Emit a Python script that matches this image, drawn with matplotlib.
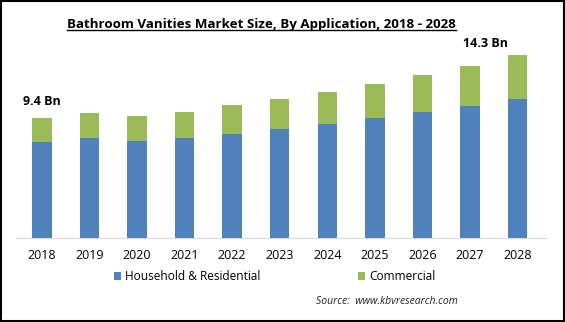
import matplotlib.pyplot as plt
from matplotlib.patches import Rectangle
from matplotlib.lines import Line2D

# Market size data (USD Bn)
years = ['2018', '2019', '2020', '2021', '2022', '2023', '2024', '2025', '2026', '2027', '2028']
household = [7.52, 7.84, 7.58, 7.84, 8.13, 8.52, 8.93, 9.38, 9.87, 10.34, 10.88]
commercial = [1.88, 1.93, 1.97, 2.03, 2.26, 2.34, 2.48, 2.65, 2.89, 3.12, 3.42]
end_labels = ['9.4 Bn', '14.3 Bn']

blue = '#4f81bd'
green = '#9bbb59'

plt.rcParams['font.family'] = ['Open Sans', 'DejaVu Sans']

fig = plt.figure(figsize=(5.65, 3.22), dpi=100)
ax = fig.add_axes([0.028, 0.261, 0.94, 0.615])

x = list(range(len(years)))
ax.bar(x, household, width=0.41, color=blue, label='Household & Residential')
ax.bar(x, commercial, width=0.41, bottom=household, color=green, label='Commercial')

totals = [h + c for h, c in zip(household, commercial)]
ax.text(x[0], totals[0] + 1.25, end_labels[0], ha='center', va='center',
        fontsize=9, fontweight='bold')
ax.text(x[-1] - 0.67, totals[-1] + 0.95, end_labels[1], ha='center', va='center',
        fontsize=9, fontweight='bold')

ax.set_xlim(-0.55, 10.62)
ax.set_ylim(0, 15.5)
ax.set_xticks(x)
ax.set_xticklabels(years, fontsize=9)
ax.tick_params(axis='x', length=0, pad=8)
ax.set_yticks([])
for s in ['top', 'right', 'left']:
    ax.spines[s].set_visible(False)
ax.spines['bottom'].set_color('#d9d9d9')

fig.legend(loc='center', bbox_to_anchor=(0.486, 0.14), ncol=2, frameon=False,
           fontsize=8.6, handlelength=0.6, handleheight=0.6, handletextpad=0.3,
           columnspacing=8.2)

fig.text(0.81, 0.065, 'Source:  www.kbvresearch.com', ha='right', va='center',
         fontsize=7.5, style='italic', color='#222222')

title = fig.text(0.463, 0.925, 'Bathroom Vanities Market Size, By Application, 2018 - 2028',
                 ha='center', va='center', fontsize=9.6, fontweight='bold')

# underline the title
fig.canvas.draw()
bb = title.get_window_extent(fig.canvas.get_renderer()).transformed(fig.transFigure.inverted())
fig.add_artist(Line2D([bb.x0, bb.x1], [bb.y0 + 0.003, bb.y0 + 0.003], color='black',
                      linewidth=1.0, transform=fig.transFigure))

# black frame around the image
fig.patches.append(Rectangle((0.001, 0.002), 0.997, 0.995, transform=fig.transFigure,
                             fill=False, edgecolor='black', linewidth=1.5))

fig.savefig('out.png', dpi=100)
